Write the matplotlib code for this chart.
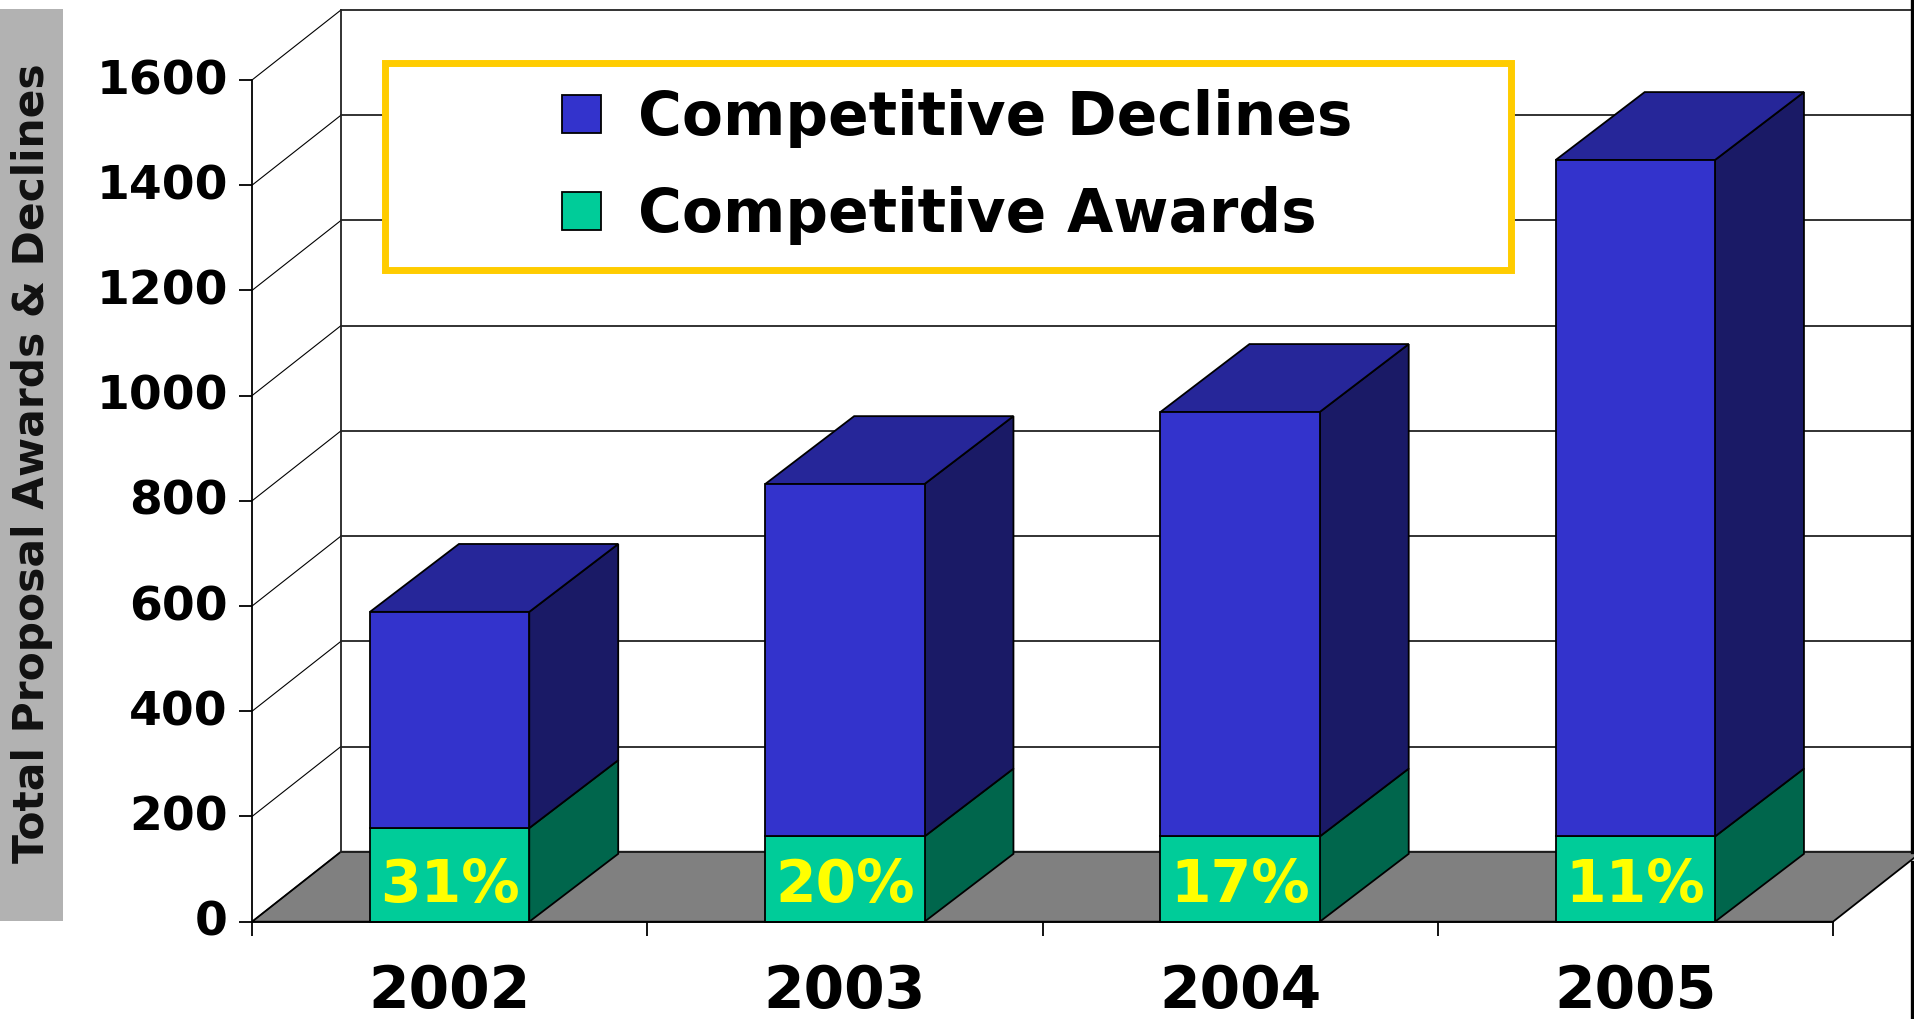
import matplotlib
matplotlib.use("Agg")
import matplotlib.pyplot as plt
import numpy as np
from matplotlib.lines import Line2D
from matplotlib.patches import Polygon, Rectangle
from matplotlib.transforms import ScaledTranslation

years = ["2002", "2003", "2004", "2005"]
awards = [178, 162, 162, 162]
declines = [411, 670, 807, 1286]
percents = ["31%", "20%", "17%", "11%"]
y_ticks = [0, 200, 400, 600, 800, 1000, 1200, 1400, 1600]

W, H = 1915, 1019
BLUE, BLUE_TOP, BLUE_SIDE = "#3333CC", "#262699", "#1A1A66"
GREEN, GREEN_SIDE = "#00CC99", "#00664C"

# fake 3d depth of the chart box, in data units
depth_x = 0.225
depth_y = 133
bar_depth_y = 129
wall_right = 4.2
bar_width = 0.403

fig = plt.figure(figsize=(W / 100, H / 100), dpi=100, facecolor="white")
ax = fig.add_axes([252 / W, (H - 921.7) / H, 1581 / W, 841.7 / H], facecolor="none")
ax.set_xlim(0, 4)
ax.set_ylim(0, 1600)

x = np.arange(len(years)) + 0.5


def face(points, color, z):
    ax.add_patch(Polygon(points, closed=True, facecolor=color, edgecolor="black",
                         linewidth=1.3, clip_on=False, zorder=z))


# floor and back wall
face([(0, 0), (4, 0), (4 + depth_x, depth_y), (depth_x, depth_y)], "#808080", 1)
for v in y_ticks:
    ax.plot([0, depth_x], [v, v + depth_y], color="black", lw=0.8, clip_on=False, zorder=1.5)
    ax.plot([depth_x, wall_right], [v + depth_y, v + depth_y], color="#222222", lw=1.3,
            clip_on=False, zorder=1.5)
ax.plot([depth_x, depth_x], [depth_y, 1600 + depth_y], color="#222222", lw=1.3, clip_on=False, zorder=1.5)

# border line down the right edge of the slide picture
fig.add_artist(Line2D([1912.5 / W] * 2, [1, (H - 852) / H], color="black", lw=2.4))
fig.add_artist(Line2D([1912.5 / W] * 2, [(H - 862) / H, 0], color="black", lw=2.4))

# bar sides and tops go behind the front faces
for xc, a, d in zip(x, awards, declines):
    x1 = xc + bar_width / 2
    x0 = xc - bar_width / 2
    t = a + d
    face([(x1, 0), (x1 + depth_x, bar_depth_y), (x1 + depth_x, a + bar_depth_y), (x1, a)], GREEN_SIDE, 2)
    face([(x1, a), (x1 + depth_x, a + bar_depth_y), (x1 + depth_x, t + bar_depth_y), (x1, t)], BLUE_SIDE, 2)
    face([(x0, t), (x1, t), (x1 + depth_x, t + bar_depth_y), (x0 + depth_x, t + bar_depth_y)], BLUE_TOP, 2)

award_bars = ax.bar(x, awards, bar_width, color=GREEN, edgecolor="black", linewidth=1.3,
                    label="Competitive Awards", zorder=3, clip_on=False)
decline_bars = ax.bar(x, declines, bar_width, bottom=awards, color=BLUE, edgecolor="black", linewidth=1.3,
                      label="Competitive Declines", zorder=3, clip_on=False)

for xc, p in zip(x, percents):
    ax.text(xc, 68, p, color="#FFFF00", fontsize=42, fontweight="bold", ha="center", va="center", zorder=4)

# axes
for side in ["top", "right"]:
    ax.spines[side].set_visible(False)
for side in ["left", "bottom"]:
    ax.spines[side].set_linewidth(1.3)
    ax.spines[side].set_zorder(5)
ax.set_yticks(y_ticks)
ax.set_xticks(range(5))
ax.set_xticklabels([])
ax.set_xticks(x, minor=True)
ax.set_xticklabels(years, minor=True, fontsize=42, fontweight="bold")
ax.tick_params(axis="x", which="major", length=10, width=1.3)
ax.tick_params(axis="x", which="minor", length=0, pad=30)
ax.tick_params(axis="y", length=9.5, width=1.3, pad=8, labelsize=34)
nudge = ScaledTranslation(0, 3.5 / 100, fig.dpi_scale_trans)  # labels sit a bit above their ticks
for lab in ax.get_yticklabels():
    lab.set_fontweight("bold")
    lab.set_transform(lab.get_transform() + nudge)

# y label on its grey strip
ax.add_patch(Rectangle((0, (H - 921) / H), 63 / W, 912 / H, transform=fig.transFigure,
                       facecolor="#B2B2B2", edgecolor="none", clip_on=False, zorder=0))
ylab = ax.set_ylabel("Total Proposal Awards & Declines", fontsize=30.5, fontweight="bold", color="#111111")
ylab.set_verticalalignment("center")
ax.yaxis.set_label_coords(32 / W, 1 - 463 / H, transform=fig.transFigure)

# legend box is drawn separately since the padding is not uniform
ax.add_patch(Rectangle((385.5 / W, 1 - 269.5 / H), 1126 / W, 206.5 / H, transform=fig.transFigure,
                       facecolor="white", edgecolor="#FFCC00", linewidth=5, clip_on=False, zorder=6))
leg = ax.legend([decline_bars, award_bars], ["Competitive Declines", "Competitive Awards"],
                loc="center left", bbox_to_anchor=(562 / W, 1 - 167 / H), bbox_transform=fig.transFigure,
                frameon=False, prop={"size": 43, "weight": "bold"}, handlelength=0.66, handleheight=0.6,
                handletextpad=0.62, labelspacing=0.63, borderpad=0, borderaxespad=0)
leg.set_zorder(7)

plt.savefig("out.png", dpi=100)
plt.close()
